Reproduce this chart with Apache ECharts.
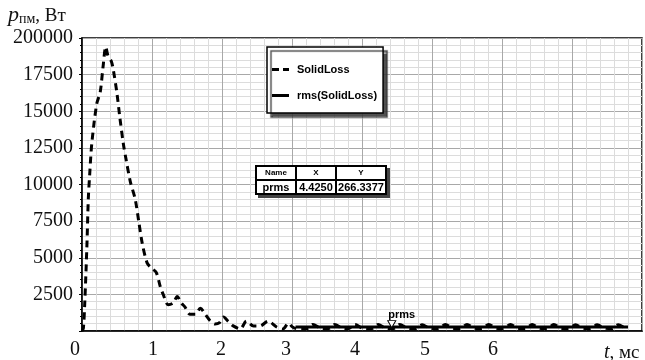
<!DOCTYPE html>
<html>
<head>
<meta charset="utf-8">
<script src="https://cdn.jsdelivr.net/npm/echarts@6/dist/echarts.min.js"></script>
<style>html,body{margin:0;padding:0;background:#fff}#c{width:645px;height:360px}</style>
</head>
<body>
<div id="c"></div>
<script>
// SolidLoss, W, vs time t, ms
const solidT = [0, 0.02, 0.04, 0.07, 0.09, 0.11, 0.14, 0.21, 0.26, 0.30, 0.34, 0.37, 0.42, 0.45, 0.50, 0.54, 0.59, 0.63, 0.69, 0.76, 0.81, 0.86, 0.93, 0.99, 1.06, 1.12, 1.16, 1.23, 1.30, 1.36, 1.42, 1.47, 1.54, 1.62, 1.69, 1.76, 1.83, 1.90, 1.96, 2.02, 2.09, 2.16, 2.26, 2.35, 2.45, 2.54, 2.66, 2.78, 2.87, 2.95, 3.00, 3.05, 3.20, 3.30, 3.40, 3.51, 3.61, 3.71, 3.80, 3.90, 4.00, 4.13, 4.23, 4.33, 4.44, 4.54, 4.64, 4.76, 4.86, 4.96, 5.09, 5.19, 5.29, 5.40, 5.50, 5.60, 5.71, 5.81, 5.91, 6.02, 6.12, 6.22, 6.33, 6.43, 6.53, 6.64, 6.74, 6.84, 6.95, 7.05, 7.15, 7.26, 7.36, 7.46, 7.56, 7.66, 7.76, 7.80];
const solidP = [0, 200, 2000, 5800, 9000, 10700, 12800, 15500, 16300, 18000, 19400, 18800, 18400, 17750, 16200, 14600, 12800, 11700, 10200, 9000, 7500, 6000, 4650, 4300, 4000, 3000, 2500, 1800, 1900, 2350, 1900, 1650, 1150, 1150, 1550, 1150, 700, 480, 550, 950, 650, 350, 150, 670, 340, 340, 670, 270, 140, 540, 300, 180, 150, 450, 200, 150, 450, 200, 150, 450, 200, 150, 450, 200, 150, 450, 200, 150, 420, 200, 150, 450, 200, 150, 450, 200, 150, 450, 200, 150, 450, 200, 150, 450, 200, 150, 450, 200, 150, 420, 200, 150, 420, 200, 150, 420, 200, 180];
// rms(SolidLoss)
const rmsT = [3.05, 7.80];
const rmsP = [266.3377, 266.3377];
// marker
const markerName = 'prms';
const markerX = 4.4250;
const markerY = 266.3377;
// tick labels
const yTickLabels = {2500:'2500',5000:'5000',7500:'7500',10000:'10000',12500:'12500',15000:'15000',17500:'17500',20000:'200000'};
const xTickLabels = ['0','1','2','3','4','5','6'];

const solidData = solidT.map((t, i) => [t, solidP[i]]);
const rmsData = rmsT.map((t, i) => [t, rmsP[i]]);

const xShift = [-7, 1, -1, -6, -7, -7, -9];
const rich = {};
xShift.forEach((d, i) => {
  rich['l' + i] = {
    fontFamily: 'Liberation Serif', fontSize: 20, color: '#111',
    padding: d < 0 ? [0, -2 * d, 0, 0] : [0, 0, 0, 2 * d]
  };
});

const bar = (x, y, w, h) => ({type: 'rect', z: 120, shape: {x: x, y: y, width: w, height: h}, style: {fill: '#000'}});
const txt = (x, y, s, size) => ({type: 'text', z: 121, x: x, y: y, style: {
  text: s, fontFamily: 'Liberation Sans', fontWeight: 'bold', fontSize: size,
  fill: '#000', align: 'center', verticalAlign: 'middle'}});

const chart = echarts.init(document.getElementById('c'), null, {renderer: 'canvas'});
chart.setOption({
  animation: false,
  backgroundColor: '#fff',
  grid: {left: 82, right: 3, top: 38, bottom: 23, show: true, borderColor: '#000', borderWidth: 1.5, backgroundColor: 'transparent'},
  legend: {
    orient: 'vertical', left: 267, top: 47,
    backgroundColor: '#fff', borderColor: '#000', borderWidth: 1.5,
    shadowColor: 'rgba(50,50,50,0.85)', shadowOffsetX: 4, shadowOffsetY: 4, shadowBlur: 1,
    padding: [17, 6, 12, 5], itemGap: 15, itemWidth: 17, itemHeight: 3,
    itemStyle: {color: '#000', borderWidth: 0},
    textStyle: {fontFamily: 'Liberation Sans', fontWeight: 'bold', fontSize: 11, color: '#000', padding: [0, 0, 0, 3]},
    data: [
      {name: 'SolidLoss', icon: 'path://M0,0H7V3H0Z M11,0H17V3H11Z'},
      {name: 'rms(SolidLoss)', icon: 'rect'}
    ]
  },
  xAxis: {
    type: 'value', min: 0, max: 8, interval: 1,
    axisLine: {show: true, lineStyle: {color: '#000', width: 1.5}},
    axisTick: {show: false},
    minorTick: {show: false, splitNumber: 5},
    splitLine: {show: true, lineStyle: {color: '#a8a8a8', width: 1}},
    minorSplitLine: {show: true, lineStyle: {color: '#dcdcdc', width: 1}},
    axisLabel: {
      margin: 9,
      formatter: v => {
        const i = Math.round(v);
        if (i < xTickLabels.length) return '{l' + i + '|' + xTickLabels[i] + '}';
        return '';
      },
      rich: rich
    }
  },
  yAxis: {
    type: 'value', min: 0, max: 20000, interval: 2500,
    axisLine: {show: true, lineStyle: {color: '#000', width: 1.5}},
    axisTick: {show: true, length: 3, lineStyle: {color: '#000'}},
    minorTick: {show: true, splitNumber: 5, length: 2, lineStyle: {color: '#000'}},
    splitLine: {show: true, lineStyle: {color: '#a8a8a8', width: 1}},
    minorSplitLine: {show: true, lineStyle: {color: '#dcdcdc', width: 1}},
    axisLabel: {
      margin: 9, fontFamily: 'Liberation Serif', fontSize: 20, color: '#111',
      formatter: v => yTickLabels[v] || ''
    }
  },
  series: [
    {
      name: 'SolidLoss', type: 'line', data: solidData, symbol: 'none', smooth: 0.3,
      lineStyle: {color: '#000', width: 3, type: [7, 5]},
      itemStyle: {color: '#000'}, z: 3
    },
    {
      name: 'rms(SolidLoss)', type: 'line', data: rmsData, symbol: 'none',
      lineStyle: {color: '#000', width: 3, type: 'solid'},
      itemStyle: {color: '#000'}, z: 2,
      markPoint: {
        data: [{name: markerName, coord: [markerX, markerY]}],
        symbol: 'triangle', symbolRotate: 180, symbolSize: [8, 7], symbolOffset: [0, -3],
        itemStyle: {color: '#fff', borderColor: '#000', borderWidth: 1},
        label: {show: true, position: 'top', distance: 0, offset: [10, 0], formatter: markerName,
          fontFamily: 'Liberation Sans', fontWeight: 'bold', fontSize: 11, color: '#000'}
      }
    }
  ],
  graphic: [
    // y-axis title
    {type: 'text', left: 8, top: 4, style: {
      text: '{p|p}{s|пм}{u|, Вт}',
      rich: {
        p: {fontFamily: 'Liberation Serif', fontStyle: 'italic', fontSize: 22, fill: '#111', verticalAlign: 'bottom'},
        s: {fontFamily: 'Liberation Serif', fontSize: 14, fill: '#111', verticalAlign: 'bottom'},
        u: {fontFamily: 'Liberation Serif', fontSize: 19, fill: '#111', verticalAlign: 'bottom'}
      }
    }},
    // x-axis title
    {type: 'text', left: 604, top: 343, style: {
      text: '{t|t}{u|, мс}',
      rich: {
        t: {fontFamily: 'Liberation Serif', fontStyle: 'italic', fontSize: 20, fill: '#111'},
        u: {fontFamily: 'Liberation Serif', fontSize: 19, fill: '#111'}
      }
    }},
    // marker table
    {type: 'group', left: 255, top: 165, z: 110, zlevel: 1, children: [
      {type: 'rect', z: 110, shape: {x: 3, y: 3, width: 132, height: 30}, style: {fill: '#444'}},
      {type: 'rect', z: 111, shape: {x: 0, y: 0, width: 132, height: 30}, style: {fill: '#fff'}},
      bar(0, 0, 132, 2), bar(0, 28, 132, 2), bar(0, 0, 2, 30), bar(130, 0, 2, 30),
      bar(0, 14, 132, 2), bar(40, 0, 2, 30), bar(80, 0, 2, 30),
      txt(21, 8, 'Name', 8),
      txt(61, 8, 'X', 8),
      txt(106, 8, 'Y', 8),
      txt(21, 22.5, markerName, 11),
      txt(61, 22.5, markerX.toFixed(4), 11),
      txt(106, 22.5, markerY.toFixed(4), 11)
    ]}
  ]
});
</script>
</body>
</html>
